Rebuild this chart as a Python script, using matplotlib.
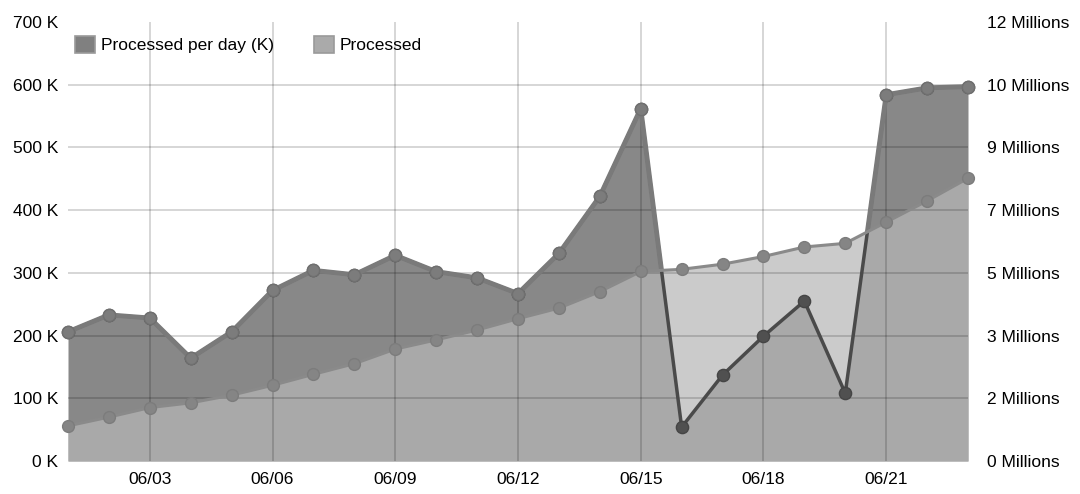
import numpy as np
import matplotlib
matplotlib.use("Agg")
import matplotlib.pyplot as plt
from matplotlib.patches import Patch, Polygon

plt.rcParams['font.family'] = ['Liberation Sans', 'DejaVu Sans']

# data
days = ["06/01", "06/02", "06/03", "06/04", "06/05", "06/06", "06/07", "06/08",
        "06/09", "06/10", "06/11", "06/12", "06/13", "06/14", "06/15", "06/16",
        "06/17", "06/18", "06/19", "06/20", "06/21", "06/22", "06/23"]
per_day_k = [206, 233, 228, 164, 206, 272, 304, 297, 328, 302, 292, 267,
             331, 422, 562, 54, 137, 199, 255, 108, 584, 595, 597]
processed_m = [0.96, 1.20, 1.46, 1.59, 1.80, 2.07, 2.37, 2.66, 3.06, 3.31, 3.58, 3.89,
               4.18, 4.63, 5.18, 5.24, 5.38, 5.59, 5.85, 5.95, 6.53, 7.11, 7.73]
shown_days = ["06/03", "06/06", "06/09", "06/12", "06/15", "06/18", "06/21"]
left_ticks = [0, 100, 200, 300, 400, 500, 600, 700]
left_max = 700
right_max = 12

x = np.arange(len(days))
# right axis (millions) is mapped onto the left axis range
processed_k = np.array(processed_m) * left_max / right_max

fig = plt.figure(figsize=(10.8, 4.94), dpi=100)
ax = fig.add_axes([68 / 1080, 1 - 461 / 494, 900 / 1080, 439 / 494])

ax.fill_between(x, per_day_k, 0, color='#888888', lw=0, zorder=1)
ax.fill_between(x, processed_k, 0, color='#b7b7b7', alpha=0.72, lw=0, zorder=1.5)

# grid on top of the fills
for t in left_ticks[1:-1]:
    ax.axhline(t, color='black', alpha=0.19, lw=1.2, zorder=2)
for d in shown_days:
    ax.axvline(days.index(d), color='black', alpha=0.19, lw=1.2, zorder=2)

# per day line: dark inside the light area, lighter above it
ax.plot(x, per_day_k, color='#4a4a4a', lw=2.5, marker='o', ms=8.8,
        mfc='#505050', mec='#454545', zorder=3, clip_on=False)
upper = Polygon(list(zip([-1] + list(x) + [len(x)], [processed_k[0]] + list(processed_k) + [processed_k[-1]]))
                + [(len(x), 900), (-1, 900)], closed=True, transform=ax.transData)
top_line, = ax.plot(x, per_day_k, color='#7a7a7a', lw=3.5, marker='o', ms=8.8,
                    mfc='#7c7c7c', mec='#707070', zorder=3.5)
top_line.set_clip_box(None)
top_line.set_clip_path(upper)

ax.plot(x, processed_k, color='#8a8a8a', lw=2.2, marker='o', ms=8.5,
        mfc='#858585', mec='#7c7c7c', zorder=4, clip_on=False)

ax.set_xlim(0, len(x) - 1)
ax.set_ylim(0, left_max)
ax.set_yticks(left_ticks)
ax.set_yticklabels([f"{t} K" for t in left_ticks])
ax.set_xticks([days.index(d) for d in shown_days])
ax.set_xticklabels(shown_days)
ax.tick_params(axis='y', length=0, pad=7, labelsize=12.5)
ax.tick_params(axis='x', length=0, pad=8, labelsize=12.5)
for s in ax.spines.values():
    s.set_visible(False)

ax2 = ax.twinx()
ax2.set_ylim(0, right_max)
rticks = [right_max * t / left_max for t in left_ticks]
ax2.set_yticks(rticks)
ax2.set_yticklabels([f"{round(v)} Millions" for v in rticks])
ax2.tick_params(axis='y', length=0, pad=14, labelsize=12.5)
for s in ax2.spines.values():
    s.set_visible(False)

handles = [Patch(facecolor='#808080', edgecolor='#9a9a9a', lw=1.2, label='Processed per day (K)'),
           Patch(facecolor='#aaaaaa', edgecolor='#9a9a9a', lw=1.2, label='Processed')]
ax2.legend(handles=handles, loc='upper left', bbox_to_anchor=(0.0, 0.985), ncol=2,
           frameon=False, fontsize=12.5, handlelength=1.15, handleheight=1.2,
           handletextpad=0.35, columnspacing=2.3, borderaxespad=0)

fig.savefig("out.png", dpi=100)
